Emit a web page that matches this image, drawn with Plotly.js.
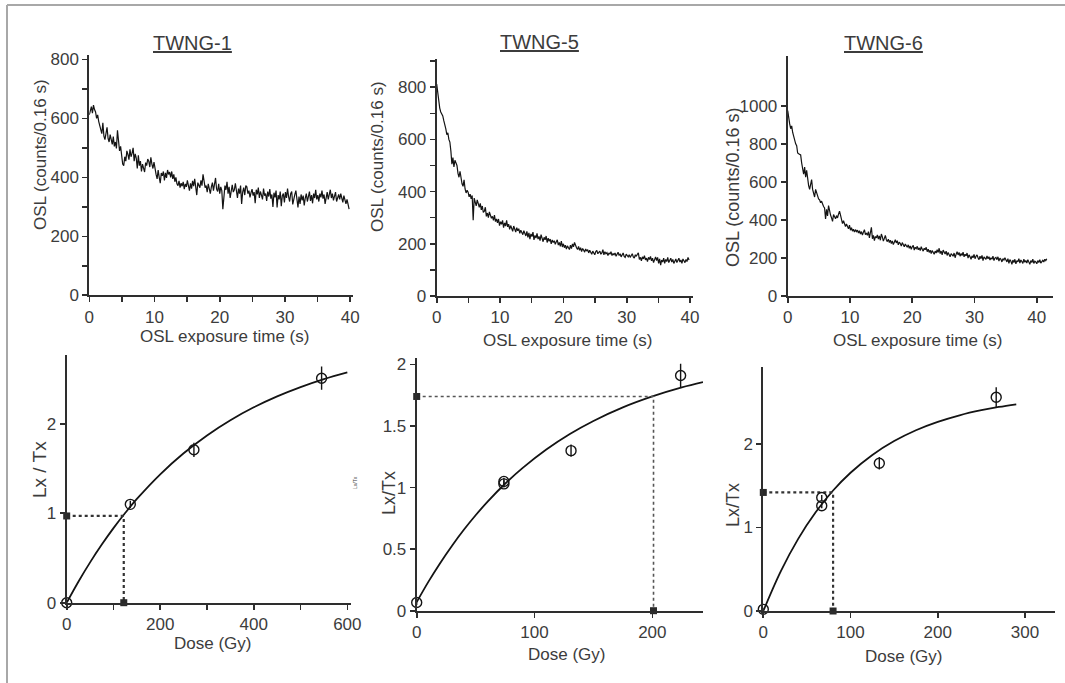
<!DOCTYPE html>
<html>
<head>
<meta charset="utf-8">
<script src="https://cdn.plot.ly/plotly-3.0.1.min.js"></script>
<style>html,body{margin:0;padding:0;background:#fff;}#chart{width:1065px;height:683px;}</style>
</head>
<body>
<div id="chart"></div>
<script>
// ---------------- DATA ----------------
const sampleNames = ["TWNG-1", "TWNG-5", "TWNG-6"];
const channelWidth = 0.16; // s per channel

// OSL decay curves (counts per 0.16 s channel)
const osl1 = [
612,625,640,618,645,630,622,600,612,590,
575,560,548,585,540,528,555,570,532,520,
545,530,512,538,505,520,498,560,515,490,
505,475,445,440,470,455,490,478,460,495,
470,482,500,455,480,465,430,475,440,455,
420,445,430,418,450,440,462,455,435,468,
445,430,452,420,410,395,425,400,380,415,
405,420,390,415,398,425,410,418,400,420,
395,410,385,400,378,372,388,365,380,370,
385,360,378,368,390,372,355,380,362,388,
370,395,362,340,382,375,365,390,372,410,
388,365,372,350,378,360,345,368,382,355,
372,398,360,352,378,345,368,355,292,340,
372,358,385,345,368,330,362,375,350,358,
380,355,330,362,345,372,310,350,365,340,
372,368,345,355,332,348,360,338,350,312,
358,342,365,330,352,340,325,362,338,345,
320,352,335,360,328,342,300,348,332,355,
298,340,325,352,302,338,345,315,350,330,
362,335,318,345,352,308,330,342,355,320,
298,335,310,342,322,338,305,330,345,318,
335,352,320,340,312,345,330,358,325,340,
318,345,332,355,328,342,310,338,350,325,
340,358,330,345,322,335,350,318,332,342,
325,345,330,315,338,318,310,325,300,292];

const osl5 = [
812,780,745,720,705,695,690,672,660,640,
618,625,600,590,555,505,530,495,520,505,
500,470,455,478,440,430,420,445,410,395,
405,398,380,390,372,385,290,375,360,345,
368,350,340,355,330,345,320,325,340,305,
318,300,322,310,298,305,290,310,285,295,
280,295,270,285,275,290,262,280,268,290,
265,275,255,270,262,248,268,255,245,262,
250,258,240,252,245,235,250,238,230,248,
225,242,218,238,228,245,215,232,222,240,
218,228,212,235,220,208,225,215,230,205,
222,210,218,200,215,205,212,198,208,215,
195,205,190,210,188,200,185,195,180,192,
185,178,195,182,200,188,205,192,185,178,
190,175,185,170,182,176,168,180,172,178,
165,175,168,160,172,165,158,170,175,162,
168,172,160,165,178,158,170,162,166,155,
165,160,170,155,162,158,165,152,160,168,
155,162,150,158,165,152,148,160,155,150,
158,148,155,162,150,145,158,152,160,165,
140,148,135,150,142,155,138,145,132,148,
140,152,135,145,128,142,150,136,148,125,
142,118,138,130,145,125,140,132,148,128,
138,145,130,140,125,135,142,128,136,145,
130,138,125,142,135,128,140,132,148,138];

const osl6 = [
975,930,905,880,895,860,835,820,800,790,
752,748,745,742,700,665,640,678,625,660,
605,580,560,590,612,560,545,520,560,538,
525,510,505,490,498,480,470,462,405,455,
420,475,440,425,410,392,428,418,405,422,
410,430,445,425,405,380,395,372,365,378,
360,352,372,345,358,340,350,335,348,338,
345,330,342,325,338,320,335,348,322,330,
318,338,305,325,360,300,318,290,312,305,
320,298,315,292,325,310,288,302,318,295,
285,298,280,292,275,288,270,282,295,278,
290,268,282,275,262,280,270,258,272,265,
255,268,250,262,245,258,265,240,255,248,
260,242,252,238,258,245,235,250,242,255,
232,245,228,240,222,238,230,218,235,225,
242,228,250,222,235,215,240,228,220,235,
212,228,218,205,222,215,208,225,200,218,
232,215,228,208,222,212,230,205,218,210,
225,198,215,205,192,210,200,218,195,208,
215,200,190,208,195,212,185,205,198,192,
210,195,205,188,200,192,208,185,198,202,
190,205,182,198,192,178,195,188,200,185,
178,195,170,190,182,165,188,175,192,168,
185,178,195,172,188,180,170,192,176,185,
172,190,180,165,185,175,192,170,182,178,
168,185,175,190,172,180,186,178,192,185,195];

// Dose-response: regenerated doses (Gy), Lx/Tx and errors
const dose1 = [0, 136, 272, 545];
const lx1   = [0.00, 1.10, 1.71, 2.51];
const err1  = [0.03, 0.04, 0.08, 0.13];
const dose5 = [0, 74, 74, 131, 224];
const lx5   = [0.067, 1.05, 1.03, 1.30, 1.91];
const err5  = [0.02, 0.03, 0.03, 0.05, 0.095];
const dose6 = [0, 67, 67, 133, 267];
const lx6   = [0.02, 1.36, 1.26, 1.77, 2.56];
const err6  = [0.02, 0.03, 0.03, 0.075, 0.12];

// Fitted growth curves
const fitDose1 = [0,25,50,75,100,125,150,200,250,300,350,400,450,500,550,600];
const fitLx1   = [0,0.235,0.451,0.650,0.834,1.003,1.160,1.436,1.671,1.871,2.041,2.185,2.307,2.411,2.500,2.575];
const fitDose5 = [0,10,20,30,40,50,60,75,90,110,130,150,175,200,225,243];
const fitLx5   = [0.07,0.236,0.388,0.528,0.657,0.775,0.884,1.031,1.160,1.309,1.435,1.541,1.651,1.740,1.813,1.856];
const fitDose6 = [0,20,40,60,80,100,125,150,175,200,225,250,270,290];
const fitLx6   = [0,0.475,0.864,1.182,1.443,1.656,1.869,2.035,2.165,2.265,2.344,2.405,2.444,2.476];

// Natural signal (Lx/Tx) and equivalent dose (Gy)
const natural = [0.97, 1.74, 1.42];
const eqDose  = [122, 201, 80];

// Tick values / axis titles
const yTicksTop3 = [0, 200, 400, 600, 800, 1000];
const xTitleTop = "OSL exposure time (s)";
const yTitleTop = "OSL (counts/0.16 s)";
const xTitleBottom = "Dose (Gy)";
const yTitlesBottom = ["Lx / Tx", "Lx/Tx", "Lx/Tx"];

// ---------------- LAYOUT ----------------
const W = 1065, H = 683;
const FONT = "Liberation Sans, Arial, Helvetica, sans-serif";
const TXT = "#3c3c3c";
const AX = "#2e2e2e";
function px(x){return x / W;}
function py(y){return 1 - y / H;}

function mkAxis(domain, range, dtick, minor){
  const a = {domain:domain, range:range, showline:true, linecolor:AX, linewidth:2,
    ticks:"outside", ticklen:5, tickwidth:1.6, tickcolor:AX, dtick:dtick, tick0:0,
    showgrid:false, zeroline:false, fixedrange:true,
    tickfont:{family:FONT, size:17, color:TXT}};
  if (minor) a.minor = {dtick:minor, tick0:0, ticks:"outside", ticklen:5, tickwidth:1.4, tickcolor:AX, showgrid:false};
  return a;
}
function mkX(l, r, range, dtick, minor){ return mkAxis([px(l), px(r)], range, dtick, minor); }
function mkY(top, bottom, range, dtick, minor){ return mkAxis([py(bottom), py(top)], range, dtick, minor); }

const layout = {
  width: W, height: H,
  margin:{l:0, r:0, t:0, b:0},
  paper_bgcolor:"#fff", plot_bgcolor:"rgba(0,0,0,0)",
  showlegend:false,
  font:{family:FONT, color:TXT},
  xaxis:  Object.assign(mkX(89.3, 353.4, [0, 40.5], 10, 5), {anchor:"y"}),
  yaxis:  Object.assign(mkY(55, 295.3, [0, 815], 200, 100), {anchor:"x"}),
  xaxis2: Object.assign(mkX(436.7, 693.2, [0, 40.5], 10, 5), {anchor:"y2"}),
  yaxis2: Object.assign(mkY(59.3, 296, [0, 907], 200, 100), {anchor:"x2"}),
  xaxis3: Object.assign(mkX(787.7, 1053, [0, 42.6], 10), {anchor:"y3"}),
  yaxis3: Object.assign(mkY(56, 295.7, [0, 1263], 200), {anchor:"x3", tickmode:"array", tickvals:yTicksTop3}),
  xaxis4: Object.assign(mkX(66.7, 350.6, [0, 607], 200, 100), {anchor:"y4"}),
  yaxis4: Object.assign(mkY(355, 602.7, [0, 2.77], 1), {anchor:"x4"}),
  xaxis5: Object.assign(mkX(416.7, 703, [0, 243], 100), {anchor:"y5"}),
  yaxis5: Object.assign(mkY(358.3, 610.7, [0, 2.05], 0.5), {anchor:"x5"}),
  xaxis6: Object.assign(mkX(763.3, 1055, [0, 334.4], 100), {anchor:"y6"}),
  yaxis6: Object.assign(mkY(366.7, 611, [0, 2.926], 1), {anchor:"x6"}),
  shapes:[
    {type:"line", xref:"paper", yref:"paper", x0:px(7), x1:px(7), y0:py(683), y1:py(5), line:{color:"#a8a8a8", width:2}},
    {type:"line", xref:"paper", yref:"paper", x0:px(7), x1:px(1065), y0:py(5), y1:py(5), line:{color:"#a8a8a8", width:2}}
  ],
  annotations:[]
};

function ann(text, x, y, size, angle){
  layout.annotations.push({text:text, x:px(x), y:py(y), xref:"paper", yref:"paper",
    showarrow:false, xanchor:"center", yanchor:"middle", textangle:angle||0,
    font:{family:FONT, size:size, color:TXT}});
}
// panel titles
ann("<u>" + sampleNames[0] + "</u>", 192, 43, 20);
ann("<u>" + sampleNames[1] + "</u>", 539, 42, 20);
ann("<u>" + sampleNames[2] + "</u>", 883, 43, 20);
// top axis titles
ann(xTitleTop, 224, 336, 17);
ann(xTitleTop, 567, 340, 17);
ann(xTitleTop, 917, 340, 17);
ann(yTitleTop, 41, 155, 17, -90);
ann(yTitleTop, 377, 157, 17, -90);
ann(yTitleTop, 733, 188, 18, -90);
// bottom axis titles
ann(xTitleBottom, 212, 643, 17);
ann(xTitleBottom, 566, 654, 17);
ann(xTitleBottom, 903, 656, 17);
ann(yTitlesBottom[0], 39, 470, 19, -90);
ann(yTitlesBottom[1], 389, 493, 18, -90);
ann(yTitlesBottom[2], 733, 505, 18, -90);
ann("Lx/Tx", 355, 483, 5, -90);

// ---------------- TRACES ----------------
const traces = [];
function decay(y, xa, ya){
  traces.push({type:"scatter", mode:"lines", x0:0, dx:channelWidth, y:y, xaxis:xa, yaxis:ya,
    line:{color:"#141414", width:1.2}, hoverinfo:"skip"});
}
decay(osl1, "x", "y");
decay(osl5, "x2", "y2");
decay(osl6, "x3", "y3");

function growth(fx, fy, dx, dy, ev, de, nat, xa, ya, dashStyle){
  // fitted curve
  traces.push({type:"scatter", mode:"lines", x:fx, y:fy, xaxis:xa, yaxis:ya,
    line:{color:"#141414", width:1.8, shape:"spline"}, cliponaxis:false, hoverinfo:"skip"});
  // De construction lines
  traces.push({type:"scatter", mode:"lines", x:[0, de, de], y:[nat, nat, 0], xaxis:xa, yaxis:ya,
    line:{color:dashStyle.color, width:dashStyle.width, dash:dashStyle.dash}, hoverinfo:"skip"});
  traces.push({type:"scatter", mode:"markers", x:[0, de], y:[nat, 0], xaxis:xa, yaxis:ya,
    marker:{symbol:"square", size:7, color:"#2a2a2a"}, cliponaxis:false, hoverinfo:"skip"});
  // measured points
  traces.push({type:"scatter", mode:"markers", x:dx, y:dy, xaxis:xa, yaxis:ya,
    error_y:{type:"data", array:ev, visible:true, color:"#141414", thickness:1.4, width:0},
    marker:{symbol:"circle-open", size:10, color:"#141414", line:{width:1.4, color:"#141414"}},
    cliponaxis:false, hoverinfo:"skip"});
}
growth(fitDose1, fitLx1, dose1, lx1, err1, eqDose[0], natural[0], "x4", "y4", {color:"#333", width:2.2, dash:"dot"});
growth(fitDose5, fitLx5, dose5, lx5, err5, eqDose[1], natural[1], "x5", "y5", {color:"#555", width:1.6, dash:"dot"});
growth(fitDose6, fitLx6, dose6, lx6, err6, eqDose[2], natural[2], "x6", "y6", {color:"#333", width:2.2, dash:"dot"});

Plotly.newPlot("chart", traces, layout, {staticPlot:true, displayModeBar:false});
</script>
</body>
</html>
